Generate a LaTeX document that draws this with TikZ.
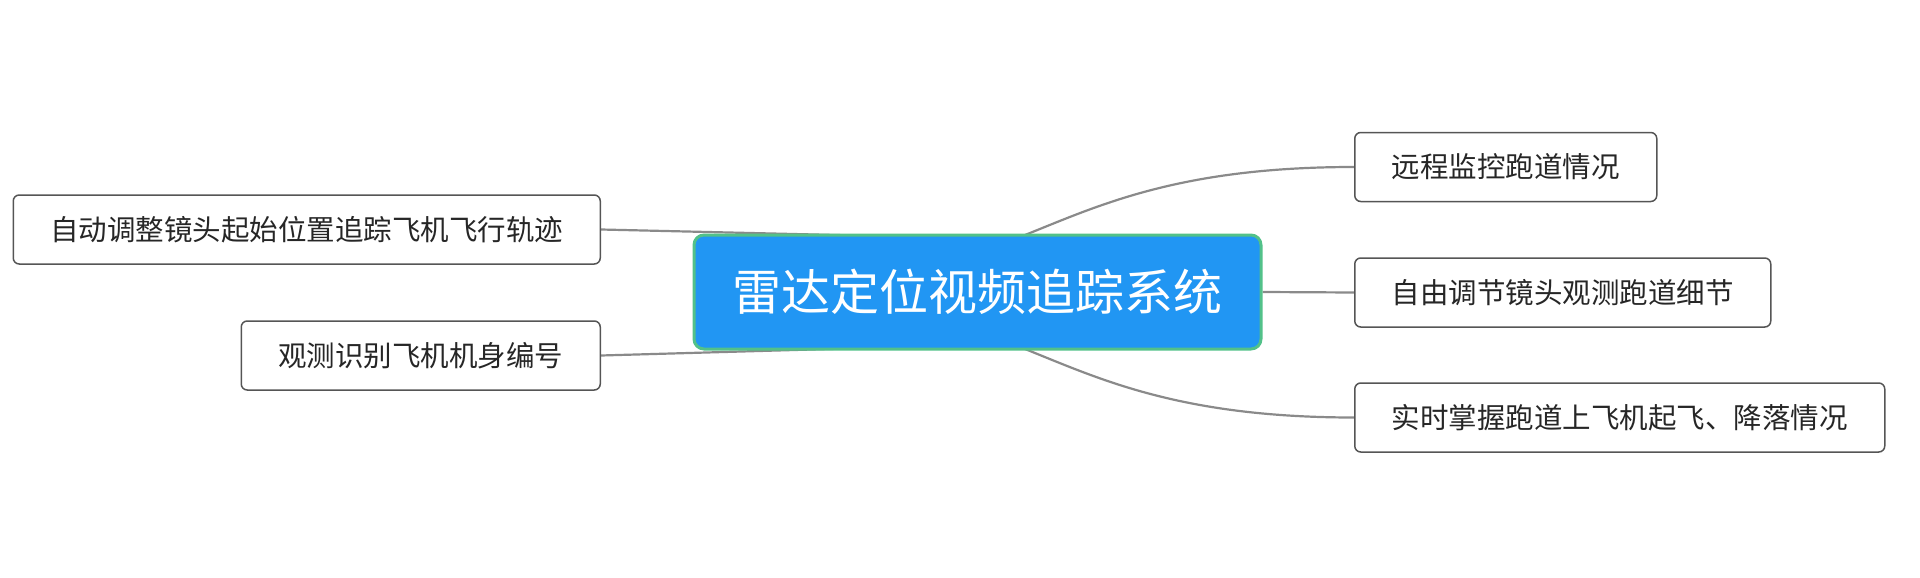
\documentclass[tikz,border=0pt]{standalone}
\usepackage{fontspec}
\setmainfont{Noto Sans CJK SC}
\usetikzlibrary{backgrounds}
\definecolor{rootblue}{HTML}{2196F3}
\definecolor{rootgreen}{HTML}{52C189}
\definecolor{boxgray}{HTML}{555555}
\definecolor{linkgray}{HTML}{8A8A8A}
\tikzset{
  rootbox/.style={draw=rootgreen, line width=3pt, fill=rootblue, rounded corners=10pt,
    text=white, font=\fontsize{49}{56}\selectfont, minimum width=567pt, minimum height=114pt},
  leafbox/.style={draw=boxgray, line width=1.5pt, fill=white, rounded corners=6pt,
    text=black!85, font=\fontsize{28.5}{34}\selectfont, inner xsep=37pt, minimum height=69pt},
  link/.style={draw=linkgray, line width=2.2pt}
}
\begin{document}
\begin{tikzpicture}[x=1pt,y=-1pt]
\useasboundingbox (0,0) rectangle (1920,578);
%%% The root of the map
\node[rootbox] (root) at (977.5, 292) {雷达定位视频追踪系统};
%%%%%% The branches on the left side
\node[leafbox, anchor=east] (track) at (601, 229.5) {自动调整镜头起始位置追踪飞机飞行轨迹};
\node[leafbox, anchor=east] (plane) at (601, 355.5) {观测识别飞机机身编号};
%%%%%% The branches on the right side
\node[leafbox, anchor=west] (remote) at (1354, 167) {远程监控跑道情况};
\node[leafbox, anchor=west] (detail) at (1354, 292.5) {自由调节镜头观测跑道细节};
\node[leafbox, anchor=west] (runway) at (1354, 417.5) {实时掌握跑道上飞机起飞、降落情况};
%%%% The links between the root and the branches
\begin{scope}[on background layer]
\coordinate (tracktip) at (900, 236.5);
\coordinate (planetip) at (900, 347);
\draw[link] (track.east) -- (tracktip);
\draw[link] (plane.east) -- (planetip);
%
\draw[link] (1025, 235) .. controls (1100, 205) and (1180, 167) .. (remote.west);
\draw[link] (root.east) -- (detail.west);
\draw[link] (1025, 349) .. controls (1100, 379) and (1180, 417.5) .. (runway.west);
\end{scope}
\end{tikzpicture}
\end{document}
